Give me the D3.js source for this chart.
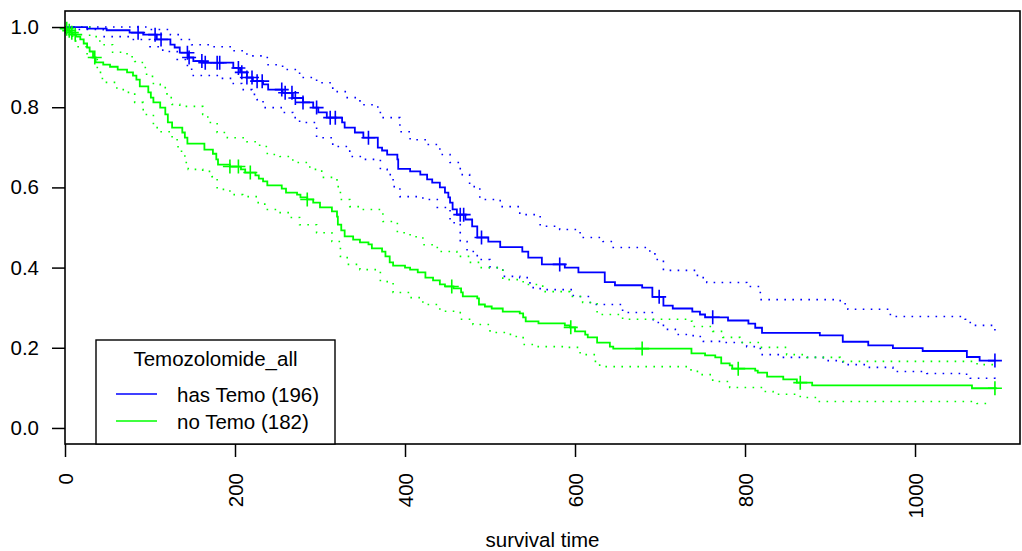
<!DOCTYPE html>
<html>
<head>
<meta charset="utf-8">
<script src="https://cdn.jsdelivr.net/npm/d3@7"></script>
<style>
  html, body { margin: 0; padding: 0; background: #fff; }
  svg { font-family: "Liberation Sans", Arial, Helvetica, sans-serif; }
</style>
</head>
<body>
<div id="chart"></div>
<script>
'use strict';

// Kaplan-Meier steps: [time, survival]
const hasTemoSteps = [[0,1.000],[26,0.996],[49,0.992],[76,0.986],[92,0.981],[108,0.969],[124,0.956],[129,0.949],[135,0.936],[145,0.924],[151,0.915],[162,0.911],[198,0.898],[206,0.887],[214,0.874],[221,0.865],[233,0.857],[239,0.844],[256,0.836],[268,0.823],[280,0.812],[292,0.799],[298,0.787],[308,0.774],[326,0.762],[329,0.749],[341,0.737],[351,0.724],[368,0.699],[373,0.692],[379,0.682],[391,0.670],[392,0.646],[406,0.640],[418,0.632],[426,0.620],[432,0.612],[441,0.600],[447,0.587],[451,0.575],[453,0.562],[456,0.545],[461,0.532],[471,0.520],[479,0.503],[485,0.475],[498,0.465],[512,0.451],[538,0.440],[545,0.425],[561,0.408],[588,0.400],[604,0.388],[635,0.364],[647,0.356],[679,0.350],[691,0.327],[704,0.305],[715,0.298],[738,0.290],[747,0.283],[753,0.276],[780,0.268],[804,0.260],[812,0.250],[820,0.237],[888,0.231],[915,0.215],[945,0.206],[974,0.199],[1009,0.192],[1061,0.177],[1076,0.168],[1095,0.168]];
const hasTemoCensor = [86,106,113,144,146,161,165,179,182,204,208,214,220,226,232,255,259,267,271,280,296,312,318,357,465,469,490,582,699,762,1094];
const hasTemoUpper = [[0,1],[88,1],[100,0.994],[124,0.981],[135,0.969],[149,0.956],[174,0.951],[198,0.941],[214,0.928],[238,0.906],[256,0.894],[276,0.874],[296,0.861],[315,0.839],[332,0.824],[347,0.806],[368,0.789],[371,0.774],[394,0.739],[406,0.719],[426,0.707],[441,0.682],[453,0.662],[465,0.632],[476,0.602],[488,0.570],[512,0.552],[535,0.532],[559,0.503],[582,0.495],[606,0.475],[633,0.465],[645,0.450],[688,0.438],[694,0.420],[704,0.393],[744,0.375],[755,0.363],[802,0.353],[818,0.320],[912,0.310],[921,0.296],[971,0.278],[1059,0.271],[1065,0.256],[1094,0.243]];
const hasTemoLower = [[0,1],[12,0.994],[45,0.976],[76,0.969],[100,0.951],[115,0.939],[132,0.919],[144,0.902],[149,0.879],[182,0.872],[198,0.859],[208,0.844],[220,0.832],[226,0.819],[233,0.799],[256,0.787],[268,0.774],[276,0.762],[296,0.724],[315,0.702],[335,0.677],[351,0.670],[371,0.645],[379,0.632],[386,0.602],[394,0.577],[421,0.570],[438,0.550],[453,0.512],[465,0.465],[473,0.440],[485,0.420],[500,0.400],[515,0.378],[535,0.375],[547,0.350],[559,0.345],[598,0.328],[618,0.308],[656,0.288],[676,0.288],[692,0.263],[704,0.246],[718,0.233],[739,0.228],[751,0.216],[771,0.213],[802,0.203],[818,0.183],[841,0.176],[873,0.176],[892,0.168],[915,0.158],[944,0.151],[974,0.141],[1014,0.136],[1056,0.134],[1065,0.124],[1094,0.116]];

const noTemoSteps = [[0,1.000],[1,0.996],[3.5,0.991],[6,0.986],[9,0.981],[13,0.976],[18,0.969],[22,0.959],[26,0.949],[29,0.939],[33,0.924],[36,0.912],[45,0.906],[53,0.901],[62,0.894],[73,0.887],[80,0.879],[84,0.869],[88,0.852],[98,0.837],[101,0.824],[104,0.812],[112,0.799],[118,0.782],[121,0.762],[126,0.749],[138,0.737],[141,0.724],[144,0.709],[164,0.694],[174,0.684],[178,0.670],[180,0.657],[194,0.652],[207,0.645],[212,0.637],[224,0.630],[228,0.622],[233,0.615],[238,0.605],[255,0.597],[260,0.587],[273,0.582],[277,0.575],[285,0.570],[292,0.562],[300,0.550],[314,0.540],[320,0.527],[321,0.507],[325,0.493],[329,0.478],[339,0.470],[347,0.463],[357,0.458],[361,0.448],[373,0.440],[377,0.428],[382,0.413],[386,0.405],[400,0.400],[406,0.395],[415,0.388],[424,0.375],[433,0.368],[441,0.358],[447,0.353],[457,0.348],[466,0.338],[468,0.328],[485,0.323],[487,0.308],[494,0.303],[502,0.298],[515,0.290],[535,0.286],[539,0.276],[542,0.266],[557,0.261],[588,0.256],[594,0.251],[600,0.241],[612,0.233],[615,0.226],[626,0.213],[641,0.203],[645,0.198],[737,0.186],[753,0.181],[765,0.176],[772,0.161],[782,0.156],[785,0.148],[812,0.143],[815,0.138],[826,0.128],[845,0.121],[861,0.113],[879,0.106],[1067,0.099],[1096,0.099]];
const noTemoCensor = [2,5,8,12,35,194,204,218,285,455,595,679,792,865,1094];
const noTemoUpper = [[0,1],[18,1],[29,0.976],[41,0.956],[56,0.937],[73,0.926],[82,0.914],[91,0.899],[96,0.877],[104,0.857],[112,0.849],[120,0.824],[126,0.807],[135,0.802],[162,0.782],[168,0.762],[179,0.737],[191,0.724],[214,0.714],[229,0.702],[238,0.682],[253,0.677],[268,0.662],[288,0.645],[302,0.625],[320,0.602],[324,0.570],[335,0.552],[347,0.545],[374,0.515],[391,0.487],[406,0.477],[421,0.457],[438,0.440],[461,0.428],[476,0.413],[488,0.400],[515,0.370],[539,0.358],[562,0.340],[594,0.328],[609,0.313],[626,0.283],[656,0.271],[732,0.266],[738,0.253],[762,0.241],[774,0.226],[794,0.213],[818,0.201],[849,0.183],[873,0.176],[912,0.166],[1061,0.166],[1073,0.158],[1096,0.158]];
const noTemoLower = [[0,1],[5,0.980],[9,0.965],[14,0.951],[26,0.924],[38,0.887],[44,0.862],[61,0.844],[73,0.837],[82,0.812],[92,0.782],[104,0.749],[112,0.739],[126,0.719],[133,0.690],[141,0.662],[145,0.645],[162,0.640],[173,0.627],[179,0.595],[194,0.582],[209,0.577],[226,0.562],[235,0.545],[249,0.537],[265,0.525],[276,0.507],[296,0.487],[314,0.465],[324,0.428],[332,0.408],[347,0.395],[371,0.365],[386,0.338],[406,0.325],[421,0.308],[441,0.291],[465,0.271],[480,0.258],[500,0.238],[524,0.228],[539,0.208],[555,0.203],[586,0.201],[606,0.183],[624,0.166],[629,0.153],[735,0.145],[744,0.133],[762,0.116],[782,0.101],[814,0.101],[821,0.091],[833,0.084],[865,0.076],[885,0.066],[1061,0.066],[1073,0.061],[1086,0.061]];

const groups = ["has Temo (196)", "no Temo (182)"];
const groupColors = ["#0000ff", "#00ff00"];
const legendTitle = "Temozolomide_all";
const xTicks = [0, 200, 400, 600, 800, 1000];
const yTicks = [0, 0.2, 0.4, 0.6, 0.8, 1.0];
const xLabel = "survival time";

const series = [
  { steps: hasTemoSteps, censor: hasTemoCensor, upper: hasTemoUpper, lower: hasTemoLower, color: groupColors[0] },
  { steps: noTemoSteps, censor: noTemoCensor, upper: noTemoUpper, lower: noTemoLower, color: groupColors[1] }
];

const width = 1022, height = 551;
const margin = { top: 11, right: 2, bottom: 107, left: 65 };
const fontSize = 20.5;

const svg = d3.select("#chart").append("svg")
  .attr("width", width)
  .attr("height", height);

const x = d3.scaleLinear().domain([0, 1123.5]).range([margin.left, width - margin.right]);
const y = d3.scaleLinear().domain([-0.04, 1.04]).range([height - margin.bottom, margin.top]);

const stepLine = d3.line()
  .x(d => x(d[0]))
  .y(d => y(d[1]))
  .curve(d3.curveStepAfter);

const plot = svg.append("g").attr("class", "plot");

// confidence bands first, dotted
series.forEach(s => {
  [s.upper, s.lower].forEach(band => {
    plot.append("path")
      .attr("d", stepLine(band))
      .attr("fill", "none")
      .attr("stroke", s.color)
      .attr("stroke-width", 1.6)
      .attr("stroke-dasharray", "1.6 6.4");
  });
});

// survival curves and censor marks
const bisect = d3.bisector(d => d[0]).right;
series.forEach(s => {
  plot.append("path")
    .attr("d", stepLine(s.steps))
    .attr("fill", "none")
    .attr("stroke", s.color)
    .attr("stroke-width", 1.8);

  const marks = plot.append("g");
  s.censor.forEach(t => {
    const v = s.steps[Math.max(0, bisect(s.steps, t) - 1)][1];
    const cx = x(t), cy = y(v), r = 7;
    marks.append("path")
      .attr("d", `M${cx - r},${cy}H${cx + r}M${cx},${cy - r}V${cy + r}`)
      .attr("stroke", s.color)
      .attr("stroke-width", 1.6)
      .attr("fill", "none");
  });
});

// axes
const bottom = height - margin.bottom;
const xAxis = svg.append("g")
  .attr("transform", `translate(0,${bottom})`)
  .call(d3.axisBottom(x).tickValues(xTicks).tickSize(13).tickFormat(d3.format("d")));
xAxis.select(".domain").remove();
xAxis.selectAll(".tick line").attr("stroke", "#000").attr("stroke-width", 1.5);
xAxis.selectAll(".tick text")
  .attr("transform", "rotate(-90)")
  .attr("text-anchor", "end")
  .attr("x", -29)
  .attr("y", 0)
  .attr("dy", "0.35em")
  .attr("fill", "#000")
  .style("font-size", fontSize + "px")
  .style("font-family", "Liberation Sans, Arial, sans-serif");

const yAxis = svg.append("g")
  .attr("transform", `translate(${margin.left},0)`)
  .call(d3.axisLeft(y).tickValues(yTicks).tickSize(13).tickFormat(d3.format(".1f")));
yAxis.select(".domain").remove();
yAxis.selectAll(".tick line").attr("stroke", "#000").attr("stroke-width", 1.5);
yAxis.selectAll(".tick text")
  .attr("x", -26)
  .attr("fill", "#000")
  .style("font-size", fontSize + "px")
  .style("font-family", "Liberation Sans, Arial, sans-serif");

// plot box
svg.append("rect")
  .attr("x", margin.left)
  .attr("y", margin.top)
  .attr("width", width - margin.right - margin.left)
  .attr("height", bottom - margin.top)
  .attr("fill", "none")
  .attr("stroke", "#000")
  .attr("stroke-width", 1.6);

svg.append("text")
  .attr("x", (margin.left + width - margin.right) / 2)
  .attr("y", 547)
  .attr("text-anchor", "middle")
  .style("font-size", fontSize + "px")
  .text(xLabel);

// legend
const lg = svg.append("g").attr("class", "legend");
lg.append("rect")
  .attr("x", 96).attr("y", 340)
  .attr("width", 239).attr("height", bottom - 340)
  .attr("fill", "#fff")
  .attr("stroke", "#000")
  .attr("stroke-width", 1.4);
lg.append("text")
  .attr("x", 215.5).attr("y", 366)
  .attr("text-anchor", "middle")
  .style("font-size", fontSize + "px")
  .text(legendTitle);
groups.forEach((g, i) => {
  const ly = 394 + i * 27;
  lg.append("line")
    .attr("x1", 116).attr("x2", 157)
    .attr("y1", ly).attr("y2", ly)
    .attr("stroke", groupColors[i])
    .attr("stroke-width", 1.6);
  lg.append("text")
    .attr("x", 177).attr("y", ly + 8)
    .style("font-size", fontSize + "px")
    .text(g);
});
</script>
</body>
</html>
